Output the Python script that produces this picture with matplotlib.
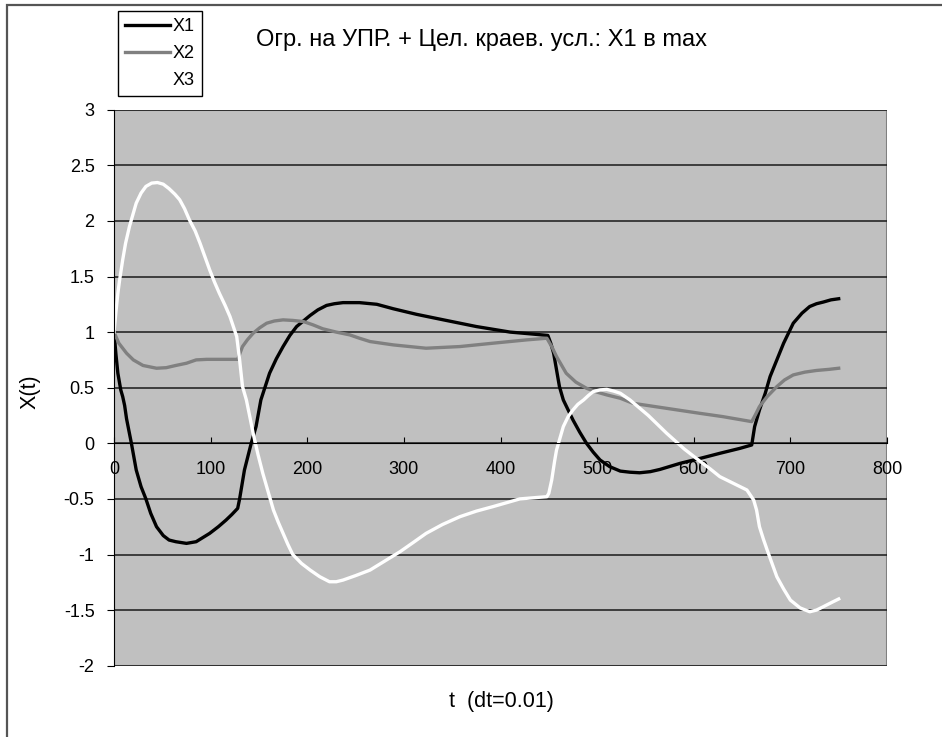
"""
X1, X2, X3 trajectories - Excel style line chart
"""
import matplotlib
matplotlib.use('Agg')
import matplotlib.pyplot as plt
from matplotlib.patches import Rectangle
from matplotlib.lines import Line2D

plt.rcParams['font.family'] = ['Liberation Sans', 'DejaVu Sans']

# данные
t1 = [0, 2, 4, 7, 9, 11, 13, 18, 23, 28, 33, 38, 44, 51, 57, 64, 75, 85, 99, 108,
      116, 122, 128, 130, 135, 142, 147, 152, 161, 168, 175, 182, 189, 196, 203, 211, 220, 228, 237, 254,
      272, 289, 313, 341, 375, 410, 430, 449, 452, 455, 461, 465, 470, 475, 482, 489, 496, 503, 513, 524,
      534, 544, 555, 565, 586, 607, 627, 648, 660, 663, 668, 674, 679, 686, 693, 703, 712, 720, 727, 734,
      742, 750]
x1 = [1.0, 0.8, 0.63, 0.48, 0.42, 0.34, 0.22, 0.0, -0.24, -0.39, -0.5, -0.63, -0.75, -0.83, -0.87, -0.885, -0.9, -0.885, -0.81, -0.75,
      -0.69, -0.64, -0.585, -0.5, -0.24, 0.0, 0.15, 0.39, 0.63, 0.76, 0.87, 0.97, 1.05, 1.10, 1.15, 1.2, 1.24, 1.255, 1.265, 1.265,
      1.25, 1.21, 1.16, 1.11, 1.05, 1.0, 0.985, 0.97, 0.9, 0.81, 0.51, 0.39, 0.3, 0.21, 0.1, 0.0, -0.08, -0.15, -0.21, -0.25,
      -0.26, -0.265, -0.255, -0.235, -0.18, -0.135, -0.09, -0.045, -0.015, 0.15, 0.3, 0.45, 0.6, 0.75, 0.9, 1.08, 1.17, 1.23, 1.255, 1.27,
      1.29, 1.30]

t2 = [0, 5, 13, 20, 30, 44, 54, 64, 75, 85, 96, 106, 117, 128, 133, 138, 144, 151, 158, 166,
      175, 185, 196, 206, 216, 230, 244, 254, 265, 289, 323, 358, 392, 427, 448, 453, 458, 468, 478, 489,
      500, 510, 524, 537, 560, 583, 606, 630, 660, 664, 668, 676, 686, 694, 703, 715, 727, 740, 750]
x2 = [1.0, 0.9, 0.81, 0.75, 0.70, 0.675, 0.68, 0.70, 0.72, 0.75, 0.755, 0.755, 0.755, 0.755, 0.87, 0.93, 0.99, 1.04, 1.08, 1.1,
      1.11, 1.105, 1.095, 1.065, 1.03, 1.0, 0.975, 0.945, 0.915, 0.885, 0.855, 0.87, 0.9, 0.93, 0.945, 0.87, 0.78, 0.63, 0.55, 0.495,
      0.46, 0.435, 0.405, 0.36, 0.33, 0.30, 0.27, 0.24, 0.195, 0.26, 0.33, 0.42, 0.51, 0.57, 0.615, 0.64, 0.655, 0.665, 0.675]

t3 = [0, 2, 4, 6, 9, 12, 16, 20, 23, 28, 33, 39, 45, 51, 57, 63, 68, 73, 78, 84,
      89, 94, 99, 104, 109, 115, 120, 127, 130, 133, 137, 141, 144, 149, 154, 160, 165, 170, 175, 180,
      185, 194, 203, 213, 223, 230, 237, 250, 265, 280, 296, 310, 323, 340, 358, 375, 392, 406, 420, 434,
      448, 450, 453, 456, 458, 462, 465, 470, 475, 480, 486, 491, 496, 503, 510, 517, 524, 534, 553, 572,
      590, 607, 617, 627, 641, 655, 662, 665, 668, 672, 676, 681, 686, 693, 700, 710, 720, 727, 734, 743,
      750]
x3 = [1.0, 1.18, 1.35, 1.48, 1.65, 1.8, 1.95, 2.07, 2.16, 2.25, 2.31, 2.34, 2.345, 2.33, 2.29, 2.24, 2.19, 2.11, 2.01, 1.91,
      1.80, 1.68, 1.56, 1.45, 1.35, 1.24, 1.14, 0.96, 0.75, 0.51, 0.39, 0.22, 0.09, -0.1, -0.27, -0.45, -0.6, -0.71, -0.81, -0.91,
      -1.0, -1.08, -1.14, -1.2, -1.245, -1.245, -1.23, -1.19, -1.14, -1.06, -0.975, -0.89, -0.81, -0.73, -0.66, -0.61, -0.57, -0.535, -0.50, -0.49,
      -0.48, -0.45, -0.33, -0.16, -0.06, 0.06, 0.15, 0.24, 0.3, 0.35, 0.39, 0.43, 0.465, 0.48, 0.485, 0.47, 0.45, 0.39, 0.25, 0.09,
      -0.05, -0.165, -0.23, -0.3, -0.36, -0.42, -0.51, -0.6, -0.75, -0.86, -0.96, -1.08, -1.2, -1.31, -1.41, -1.48, -1.515, -1.5, -1.47, -1.43,
      -1.40]

labels = ['X1', 'X2', 'X3']
colors = ['black', '#808080', 'white']
x_ticks = [0, 100, 200, 300, 400, 500, 600, 700, 800]
y_ticks = [-2, -1.5, -1, -0.5, 0, 0.5, 1, 1.5, 2, 2.5, 3]
y_ticklabels = ['-2', '-1.5', '-1', '-0.5', '0', '0.5', '1', '1.5', '2', '2.5', '3']

W, H = 942, 737
fig = plt.figure(figsize=(W / 100, H / 100), dpi=100)
ax = fig.add_axes([114 / W, 1 - 665.7 / H, (887 - 114) / W, (665.7 - 109.7) / H])
ax.set_facecolor('#c0c0c0')

# рамка всей диаграммы (правый и нижний край обрезаны)
fig.patches.append(Rectangle((7 / W, -0.5), 2, 1.5 - 5 / H, transform=fig.transFigure,
                             fill=False, edgecolor='#555555', lw=1.6))

for t, x, lab, c in zip([t1, t2, t3], [x1, x2, x3], labels, colors):
    ax.plot(t, x, color=c, lw=2.4, label=lab, solid_joinstyle='round')

ax.set_xlim(0, 800)
ax.set_ylim(-2, 3)
ax.set_xticks(x_ticks)
ax.set_yticks(y_ticks)
ax.set_yticklabels(y_ticklabels)
ax.yaxis.grid(True, color='#1a1a1a', lw=1.1)
ax.set_axisbelow(True)

ax.spines['bottom'].set_position(('data', 0))
ax.spines['bottom'].set_color('black')
ax.spines['left'].set_color('black')
ax.spines['top'].set_visible(False)
ax.spines['right'].set_visible(False)
ax.add_patch(Rectangle((0, 0), 1, 1, transform=ax.transAxes, fill=False,
                       edgecolor='#808080', lw=1.5, zorder=0.5))

ax.tick_params(axis='x', direction='in', length=4, pad=13, labelsize=13, color='black')
ax.tick_params(axis='y', direction='out', length=5, pad=9, labelsize=13, color='black')

fig.text(30 / W, 1 - 392 / H, 'X(t)', rotation=90, ha='center', va='center', fontsize=15.5)
fig.text(501 / W, 1 - 702 / H, 't  (dt=0.01)', ha='center', va='center', fontsize=15.5)
fig.text(256 / W, 1 - 40 / H, 'Огр. на УПР. + Цел. краев. усл.: X1 в max',
         ha='left', va='center', fontsize=17)

handles = [Line2D([], [], color=c, lw=2.4) for c in colors]
fig.legend(handles, labels, loc='upper left', bbox_to_anchor=(118 / W, 1 - 11 / H),
           frameon=True, fancybox=False, edgecolor='black', framealpha=1,
           borderaxespad=0, fontsize=13, handlelength=2.5, handletextpad=0.15,
           labelspacing=0.55, borderpad=0.4)

plt.savefig('out.png', dpi=100)
